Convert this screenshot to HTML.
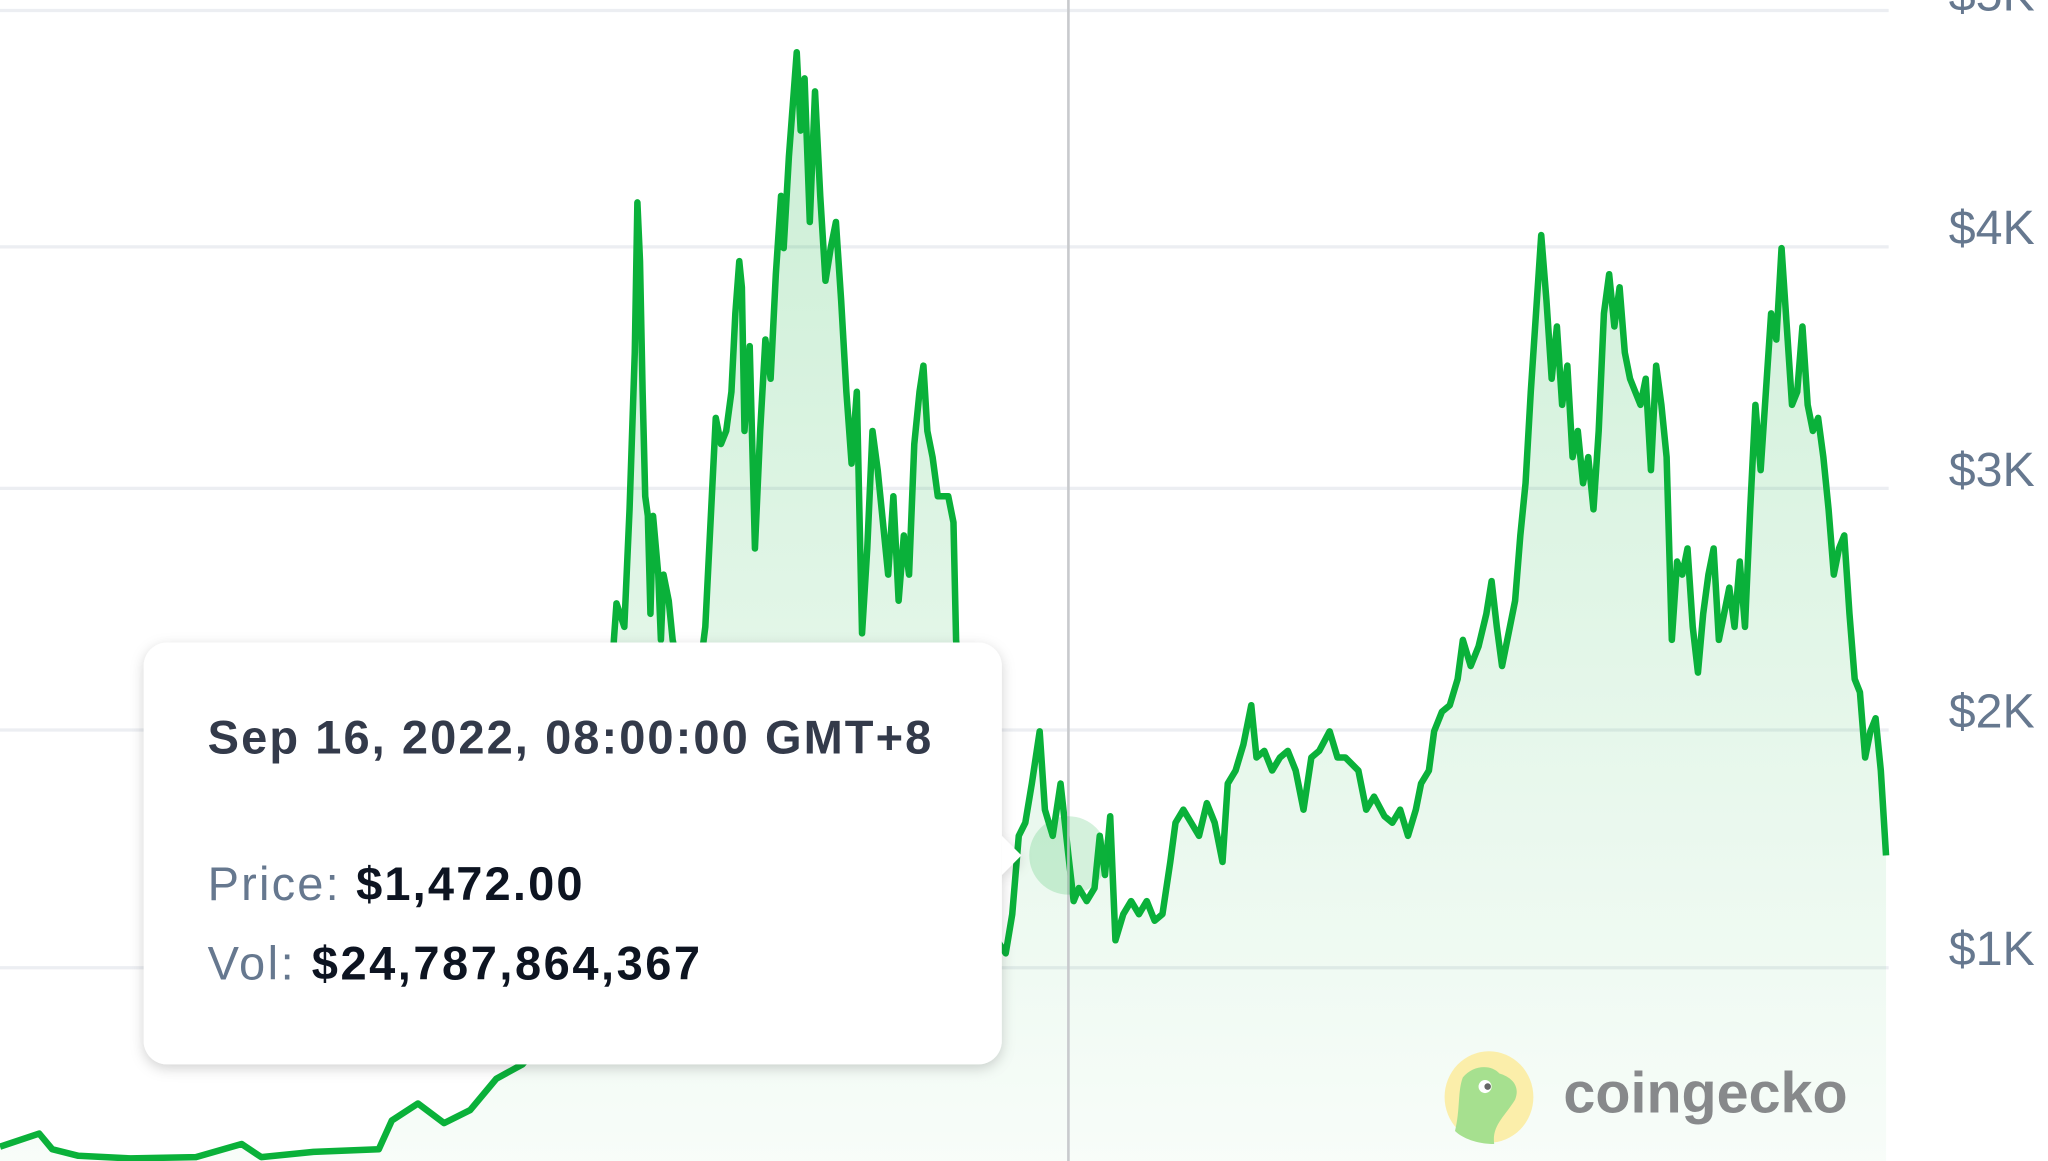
<!DOCTYPE html>
<html><head><meta charset="utf-8"><style>
html,body{margin:0;padding:0;background:#fff;}
svg{display:block;}
</style></head><body>
<svg width="2048" height="1161" viewBox="0 0 1568 889" preserveAspectRatio="none" xmlns="http://www.w3.org/2000/svg">
<defs>
<linearGradient id="g" x1="0" y1="0" x2="0" y2="1">
<stop offset="0" stop-color="#0eb23c" stop-opacity="0.22"/>
<stop offset="1" stop-color="#0eb23c" stop-opacity="0.03"/>
</linearGradient>
<filter id="sh" x="-10%" y="-10%" width="120%" height="130%"><feDropShadow dx="0" dy="3" stdDeviation="5" flood-color="#000" flood-opacity="0.18"/></filter>
</defs>
<g stroke="#eceef2" stroke-width="2.5">
<line x1="0" y1="8" x2="1446" y2="8"/>
<line x1="0" y1="189" x2="1446" y2="189"/>
<line x1="0" y1="374" x2="1446" y2="374"/>
<line x1="0" y1="559" x2="1446" y2="559"/>
<line x1="0" y1="741" x2="1446" y2="741"/>
</g>
<g font-family="Liberation Sans, sans-serif" font-size="37" fill="#66788f">
<text x="1492" y="8">$5K</text>
<text x="1492" y="187">$4K</text>
<text x="1492" y="372">$3K</text>
<text x="1492" y="557">$2K</text>
<text x="1492" y="739">$1K</text>
</g>
<path fill="url(#g)" stroke="none" d="M0,878 L30,868 L40,880 L60,885 L100,887 L150,886 L185,876 L200,886 L240,882 L290,880 L300,858 L320,845 L340,860 L360,850 L380,826 L400,815 L430,780 L460,700 L470,490 L472,462 L478,480 L482,390 L486,270 L488,155 L490,200 L492,300 L494,380 L496,395 L498,470 L500,395 L504,440 L506,490 L508,440 L512,460 L515,490 L530,560 L540,480 L545,380 L548,320 L552,340 L556,330 L560,300 L563,240 L566,200 L568,220 L570,330 L574,265 L578,420 L582,330 L586,260 L590,290 L594,210 L598,150 L600,190 L604,120 L607,80 L610,40 L613,100 L616,60 L620,170 L624,70 L628,150 L632,215 L636,190 L640,170 L644,230 L648,300 L652,355 L656,300 L660,485 L664,420 L668,330 L672,360 L676,400 L680,440 L684,380 L688,460 L692,410 L696,440 L700,340 L704,300 L707,280 L710,330 L714,350 L718,380 L722,380 L726,380 L730,400 L732,490 L750,700 L770,730 L775,700 L780,640 L785,630 L790,600 L796,560 L800,620 L806,640 L812,600 L818,655 L822,690 L826,680 L832,690 L838,680 L842,640 L846,670 L850,625 L854,720 L860,700 L866,690 L872,700 L878,690 L884,705 L890,700 L896,660 L900,630 L906,620 L912,630 L918,640 L924,615 L930,630 L936,660 L940,600 L946,590 L952,570 L958,540 L962,580 L968,575 L974,590 L980,580 L986,575 L992,590 L998,620 L1004,580 L1010,575 L1018,560 L1024,580 L1030,580 L1040,590 L1046,620 L1052,610 L1060,625 L1066,630 L1072,620 L1078,640 L1084,620 L1088,600 L1094,590 L1098,560 L1104,545 L1110,540 L1116,520 L1120,490 L1126,510 L1132,495 L1138,470 L1142,445 L1146,480 L1150,510 L1156,480 L1160,460 L1164,410 L1168,370 L1172,300 L1176,240 L1180,180 L1184,230 L1188,290 L1192,250 L1196,310 L1200,280 L1204,350 L1208,330 L1212,370 L1216,350 L1220,390 L1224,330 L1228,240 L1232,210 L1236,250 L1240,220 L1244,270 L1248,290 L1252,300 L1256,310 L1260,290 L1264,360 L1268,280 L1272,310 L1276,350 L1280,490 L1284,430 L1288,440 L1292,420 L1296,480 L1300,515 L1304,470 L1308,440 L1312,420 L1316,490 L1320,470 L1324,450 L1328,480 L1332,430 L1336,480 L1340,390 L1344,310 L1348,360 L1352,300 L1356,240 L1360,260 L1364,190 L1368,250 L1372,310 L1376,300 L1380,250 L1384,310 L1388,330 L1392,320 L1396,350 L1400,390 L1404,440 L1408,420 L1412,410 L1416,470 L1420,520 L1424,530 L1428,580 L1432,560 L1436,550 L1440,590 L1444,655 L1444,889 L0,889 Z"/>
<path fill="none" stroke="#0ab13a" stroke-width="5" stroke-linejoin="round" d="M0,878 L30,868 L40,880 L60,885 L100,887 L150,886 L185,876 L200,886 L240,882 L290,880 L300,858 L320,845 L340,860 L360,850 L380,826 L400,815 L430,780 L460,700 L470,490 L472,462 L478,480 L482,390 L486,270 L488,155 L490,200 L492,300 L494,380 L496,395 L498,470 L500,395 L504,440 L506,490 L508,440 L512,460 L515,490 L530,560 L540,480 L545,380 L548,320 L552,340 L556,330 L560,300 L563,240 L566,200 L568,220 L570,330 L574,265 L578,420 L582,330 L586,260 L590,290 L594,210 L598,150 L600,190 L604,120 L607,80 L610,40 L613,100 L616,60 L620,170 L624,70 L628,150 L632,215 L636,190 L640,170 L644,230 L648,300 L652,355 L656,300 L660,485 L664,420 L668,330 L672,360 L676,400 L680,440 L684,380 L688,460 L692,410 L696,440 L700,340 L704,300 L707,280 L710,330 L714,350 L718,380 L722,380 L726,380 L730,400 L732,490 L750,700 L770,730 L775,700 L780,640 L785,630 L790,600 L796,560 L800,620 L806,640 L812,600 L818,655 L822,690 L826,680 L832,690 L838,680 L842,640 L846,670 L850,625 L854,720 L860,700 L866,690 L872,700 L878,690 L884,705 L890,700 L896,660 L900,630 L906,620 L912,630 L918,640 L924,615 L930,630 L936,660 L940,600 L946,590 L952,570 L958,540 L962,580 L968,575 L974,590 L980,580 L986,575 L992,590 L998,620 L1004,580 L1010,575 L1018,560 L1024,580 L1030,580 L1040,590 L1046,620 L1052,610 L1060,625 L1066,630 L1072,620 L1078,640 L1084,620 L1088,600 L1094,590 L1098,560 L1104,545 L1110,540 L1116,520 L1120,490 L1126,510 L1132,495 L1138,470 L1142,445 L1146,480 L1150,510 L1156,480 L1160,460 L1164,410 L1168,370 L1172,300 L1176,240 L1180,180 L1184,230 L1188,290 L1192,250 L1196,310 L1200,280 L1204,350 L1208,330 L1212,370 L1216,350 L1220,390 L1224,330 L1228,240 L1232,210 L1236,250 L1240,220 L1244,270 L1248,290 L1252,300 L1256,310 L1260,290 L1264,360 L1268,280 L1272,310 L1276,350 L1280,490 L1284,430 L1288,440 L1292,420 L1296,480 L1300,515 L1304,470 L1308,440 L1312,420 L1316,490 L1320,470 L1324,450 L1328,480 L1332,430 L1336,480 L1340,390 L1344,310 L1348,360 L1352,300 L1356,240 L1360,260 L1364,190 L1368,250 L1372,310 L1376,300 L1380,250 L1384,310 L1388,330 L1392,320 L1396,350 L1400,390 L1404,440 L1408,420 L1412,410 L1416,470 L1420,520 L1424,530 L1428,580 L1432,560 L1436,550 L1440,590 L1444,655"/>
<line x1="818" y1="0" x2="818" y2="889" stroke="#c8cacd" stroke-width="2"/>
<circle cx="818" cy="655" r="30" fill="#0eb23c" fill-opacity="0.18"/>
<ellipse cx="1140" cy="840" rx="34" ry="35" fill="#fbeeaa"/>
<path d="M1114,866 C1118,850 1116,835 1120,825 C1128,815 1142,815 1148,822 C1158,825 1164,832 1160,842 C1152,855 1142,862 1144,876 C1132,876 1120,872 1114,866 Z" fill="#a6e08f"/>
<circle cx="1137" cy="832" r="5" fill="#fff"/><circle cx="1139" cy="832" r="2.5" fill="#666"/>
<text x="1197" y="852" font-family="Liberation Sans, sans-serif" font-weight="bold" font-size="44" fill="#87898b">coingecko</text>
<g filter="url(#sh)">
<rect x="110" y="492" width="657" height="323" rx="18" fill="#fff"/>
<path d="M767,640 L782,655 L767,670 Z" fill="#fff"/>
</g>
<g font-family="Liberation Sans, sans-serif" font-size="36">
<text x="159" y="577" font-weight="bold" fill="#333a4a" textLength="554" lengthAdjust="spacing">Sep 16, 2022, 08:00:00 GMT+8</text>
<text x="159" y="689" fill="#66788f" textLength="287" lengthAdjust="spacing">Price: <tspan font-weight="bold" fill="#0d1421">$1,472.00</tspan></text>
<text x="159" y="750" fill="#66788f" textLength="377" lengthAdjust="spacing">Vol: <tspan font-weight="bold" fill="#0d1421">$24,787,864,367</tspan></text>
</g>
</svg>
</body></html>
